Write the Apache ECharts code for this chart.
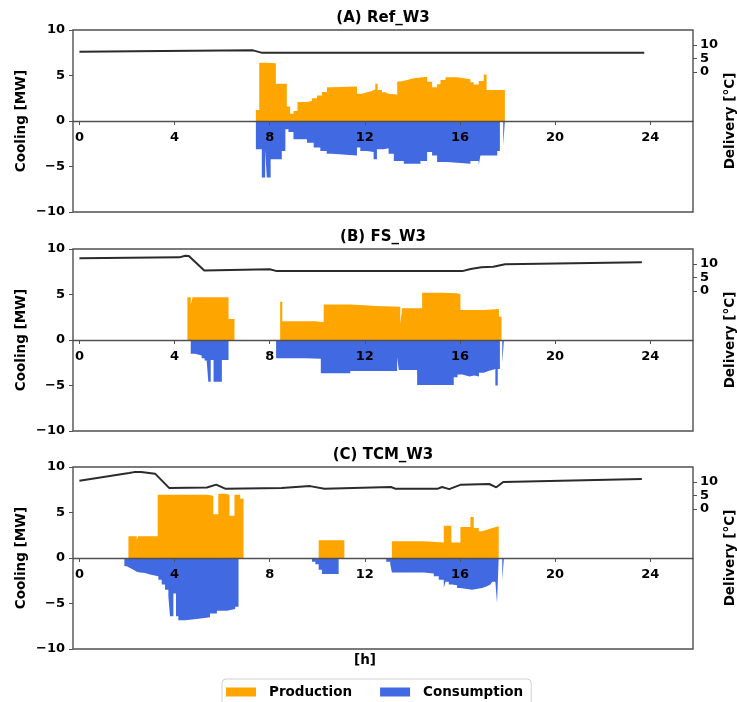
<!DOCTYPE html>
<html>
<head>
<meta charset="utf-8">
<script src="https://cdn.jsdelivr.net/npm/echarts@6/dist/echarts.min.js"></script>
<style>
  html, body { margin: 0; padding: 0; background: #fff; overflow: hidden; }
  #chart { width: 737px; height: 702px; }
</style>
</head>
<body>
<div id="chart"></div>
<script>
// Hour ticks and delivery-temperature ticks
const hourTicks = [0, 4, 8, 12, 16, 20, 24];
const deliveryTicks = [0, 5, 10];

// Panel titles
const panelTitles = ['(A) Ref_W3', '(B) FS_W3', '(C) TCM_W3'];

// Cooling production [MW] as step breakpoints [hour, value]
const prodA = [[7.42,1.2],[7.56,6.4],[7.85,6.35],[8.26,4.1],[8.72,1.6],[8.86,0.8],[9.0,1.1],[9.17,2.1],[9.55,2.2],[9.78,2.5],[9.99,2.8],[10.2,3.2],[10.41,3.7],[10.6,3.8],[11.67,3.0],[11.88,3.15],[12.09,3.3],[12.3,3.5],[12.44,4.1],[12.54,3.4],[12.72,3.15],[12.86,3.0],[13.0,2.9],[13.36,4.35],[13.5,4.5],[13.78,4.7],[14.06,4.85],[14.62,4.3],[14.83,3.7],[15.04,4.05],[15.18,4.5],[15.39,4.8],[15.88,4.6],[16.44,4.25],[16.58,4.0],[16.79,4.4],[17.0,5.1],[17.12,3.4],[17.89,0]];
const prodB = [[4.54,4.7],[4.68,3.9],[4.76,4.7],[6.27,2.3],[6.52,0],[8.44,4.2],[8.53,2.05],[9.92,1.95],[10.27,3.9],[11.39,3.75],[12.5,3.65],[13.49,1.75],[13.57,3.5],[14.41,5.2],[15.2,5.15],[15.88,5.05],[16.02,3.3],[17.0,3.4],[17.64,2.55],[17.75,0]];
const prodC = [[2.06,2.4],[2.41,2.0],[2.47,2.4],[3.29,6.95],[5.36,6.85],[5.63,4.8],[5.84,7.05],[6.1,6.95],[6.31,4.65],[6.52,6.95],[6.76,6.5],[6.9,0],[10.06,1.95],[11.14,0],[13.14,1.85],[14.48,1.7],[15.32,3.55],[15.64,1.7],[16.02,3.4],[16.44,4.5],[16.58,3.3],[16.79,2.95],[16.93,3.1],[17.14,3.3],[17.36,3.5],[17.63,0]];

// Cooling consumption [MW] as step breakpoints [hour, value]
const consA = [[7.42,-3.1],[7.67,-6.2],[7.81,-3.2],[7.88,-6.2],[8.04,-4.2],[8.51,-3.3],[8.66,-0.9],[8.79,-1.2],[9.0,-2.0],[9.57,-2.4],[9.85,-2.9],[10.13,-3.3],[10.4,-3.6],[10.62,-3.8],[11.67,-2.9],[11.81,-3.3],[12.09,-3.4],[12.37,-4.2],[12.51,-3.1],[12.79,-3.0],[13.0,-3.6],[13.22,-4.4],[13.64,-4.7],[14.34,-4.4],[14.62,-3.4],[14.83,-3.8],[15.04,-4.5],[15.46,-4.7],[16.44,-4.4],[16.79,-4.9],[16.86,-3.8],[17.57,-3.3],[17.68,0],[17.82,-2.7],[17.89,0]];
const consB = [[4.68,-1.5],[4.86,-1.7],[5.14,-2.0],[5.26,-2.25],[5.35,-2.1],[5.42,-4.6],[5.52,-2.2],[5.64,-4.6],[5.75,-4.4],[5.83,-4.6],[5.99,-2.2],[6.27,0],[8.27,-2.0],[9.5,-2.05],[10.15,-3.65],[11.39,-3.4],[13.36,-1.9],[13.43,-3.3],[14.2,-4.95],[15.74,-4.1],[15.9,-3.8],[16.1,-4.0],[16.4,-3.9],[16.6,-4.0],[16.8,-3.6],[17.0,-3.4],[17.2,-3.2],[17.49,-5.0],[17.59,-3.2],[17.68,0],[17.78,-2.5],[17.85,0]];
const consC = [[0,-0.1],[1.89,-0.9],[1.99,-1.1],[2.13,-1.3],[2.27,-1.5],[2.41,-1.6],[2.55,-1.65],[2.76,-1.8],[2.97,-1.9],[3.11,-2.0],[3.32,-2.4],[3.46,-2.9],[3.6,-3.5],[3.74,-4.2],[3.81,-6.4],[3.95,-3.9],[4.06,-6.4],[4.16,-6.85],[4.44,-6.7],[4.93,-6.5],[5.49,-6.1],[5.78,-5.8],[6.2,-5.6],[6.55,-5.35],[6.69,0],[9.78,-0.4],[9.92,-0.7],[10.06,-1.3],[10.2,-1.75],[10.9,0],[12.9,-0.4],[13.07,-0.7],[13.14,-1.6],[14.48,-1.7],[14.9,-2.0],[15.11,-2.4],[15.32,-3.3],[15.39,-2.6],[15.53,-2.9],[15.67,-3.0],[15.88,-3.3],[16.02,-3.5],[16.51,-3.3],[16.93,-3.1],[17.14,-2.9],[17.28,-3.0],[17.36,-2.6],[17.49,-2.8],[17.56,-4.95],[17.63,0],[17.78,-2.4],[17.85,0]];

// Delivery temperature [°C] over the day
const deliveryA = [[0,7.45],[3.5,7.7],[7.3,7.95],[7.65,7.1],[12,7.05],[23.75,7.1]];
const deliveryB = [[0,12.06],[4.2,12.4],[4.45,13.0],[4.6,12.9],[5.25,7.5],[8.0,8.0],[8.3,7.3],[16.1,7.3],[16.45,8.08],[16.9,8.75],[17.4,8.9],[17.9,9.86],[23.65,10.6]];
const deliveryC = [[0,10.44],[2.09,13.27],[2.3,13.6],[2.59,13.64],[3.18,13.04],[3.77,7.74],[5.36,7.9],[5.75,8.95],[6.15,7.4],[8.5,7.74],[9.7,8.41],[10.3,7.4],[13.1,8.08],[13.3,7.4],[15.05,7.4],[15.25,8.08],[15.55,7.3],[16.04,8.95],[17.23,9.19],[17.53,7.97],[17.82,9.93],[23.65,11.05]];

const production = [prodA, prodB, prodC];
const consumption = [consA, consB, consC];
const delivery = [deliveryA, deliveryB, deliveryC];

// Layout and style
const ORANGE = '#FFA500';
const BLUE = '#4169E1';
const FRAME = '#505050';
const FONT = 'DejaVu Sans';
const gridTops = [30, 249, 467];
const gridHeight = 182;
const gridLeft = 73;
const gridRight = 44;
const X_MIN = -0.27, X_MAX = 25.8;
const minus = v => String(v).replace('-', '\u2212');
const boldText = (size) => ({ fontSize: size, fontWeight: 'bold', color: '#000', fontFamily: FONT });

const grids = [], xAxes = [], yAxes = [], series = [], graphics = [];

gridTops.forEach((top, i) => {
  grids.push({
    left: gridLeft, right: gridRight, top: top, height: gridHeight,
    show: true, borderColor: FRAME, borderWidth: 1.4,
    containLabel: false, outerBoundsMode: 'none'
  });
  // hour axis drawn on the zero line (line and ticks)
  xAxes.push({
    type: 'value', gridIndex: i, position: 'bottom', min: X_MIN, max: X_MAX, z: 10,
    axisLine: { show: true, onZero: true, onZeroAxisIndex: 2 * i, lineStyle: { color: FRAME, width: 1.4 } },
    axisTick: { show: true, length: 4, customValues: hourTicks, lineStyle: { color: FRAME, width: 1 } },
    axisLabel: { show: false },
    splitLine: { show: false }
  });
  // hour labels, placed just under the zero line
  xAxes.push({
    type: 'value', gridIndex: i, position: 'top', min: X_MIN, max: X_MAX, z: 10,
    axisLine: { show: false, onZero: false },
    axisTick: { show: false },
    axisLabel: Object.assign({ customValues: hourTicks, margin: -gridHeight / 2 - 23 }, boldText(13)),
    splitLine: { show: false }
  });
  yAxes.push({
    type: 'value', gridIndex: i, position: 'left', min: -10, max: 10, interval: 5,
    axisLine: { show: false, onZero: false },
    axisTick: { show: true, length: 4, lineStyle: { color: FRAME } },
    axisLabel: Object.assign({ margin: 8, formatter: minus }, boldText(13)),
    splitLine: { show: false },
    name: 'Cooling [MW]', nameLocation: 'middle', nameGap: 45, nameRotate: 90, nameMoveOverlap: false,
    nameTextStyle: boldText(13.5)
  });
  yAxes.push({
    type: 'value', gridIndex: i, position: 'right', min: -52, max: 15.5,
    axisLine: { show: false, onZero: false },
    axisTick: { show: true, length: 4, customValues: deliveryTicks, lineStyle: { color: FRAME } },
    axisLabel: Object.assign({ customValues: deliveryTicks, margin: 7 }, boldText(13)),
    splitLine: { show: false },
    name: 'Delivery [\u00B0C]', nameLocation: 'middle', nameGap: 30, nameRotate: 90, nameMoveOverlap: false,
    nameTextStyle: boldText(13.5)
  });

  const areaSeries = (name, data, color) => ({
    name: name, type: 'line', step: 'end', data: data,
    xAxisIndex: 2 * i, yAxisIndex: 2 * i,
    color: color, showSymbol: false, symbol: 'none',
    lineStyle: { width: 0, opacity: 0 },
    areaStyle: { color: color, opacity: 1, origin: 0 },
    silent: true, z: 2
  });
  series.push(areaSeries('Production', production[i], ORANGE));
  series.push(areaSeries('Consumption', consumption[i], BLUE));
  series.push({
    name: 'Delivery', type: 'line', data: delivery[i],
    xAxisIndex: 2 * i, yAxisIndex: 2 * i + 1,
    showSymbol: false, symbol: 'none',
    lineStyle: { color: '#2b2b2b', width: 2 },
    silent: true, z: 5
  });

  graphics.push({
    type: 'text', x: 383, y: top - 12,
    style: { text: panelTitles[i], font: 'bold 15px "DejaVu Sans"', fill: '#000', align: 'center', verticalAlign: 'middle' }
  });
});

graphics.push({
  type: 'text', x: 365, y: 660,
  style: { text: '[h]', font: 'bold 13.5px "DejaVu Sans"', fill: '#000', align: 'center', verticalAlign: 'middle' }
});

const chart = echarts.init(document.getElementById('chart'), null, { renderer: 'canvas' });
chart.setOption({
  animation: false,
  backgroundColor: '#fff',
  textStyle: { fontFamily: FONT, fontWeight: 'bold', color: '#000' },
  grid: grids,
  xAxis: xAxes,
  yAxis: yAxes,
  series: series,
  graphic: graphics,
  legend: {
    left: 222, top: 679,
    data: [
      { name: 'Production', icon: 'rect', itemStyle: { color: ORANGE } },
      { name: 'Consumption', icon: 'rect', itemStyle: { color: BLUE } }
    ],
    selectedMode: false,
    itemWidth: 30, itemHeight: 9, itemGap: 28,
    padding: [6, 8, 30, 4],
    borderColor: '#d0d0d0', borderWidth: 1, borderRadius: 4,
    textStyle: Object.assign({ padding: [0, 0, 0, 8] }, boldText(13.5))
  }
});
</script>
</body>
</html>
